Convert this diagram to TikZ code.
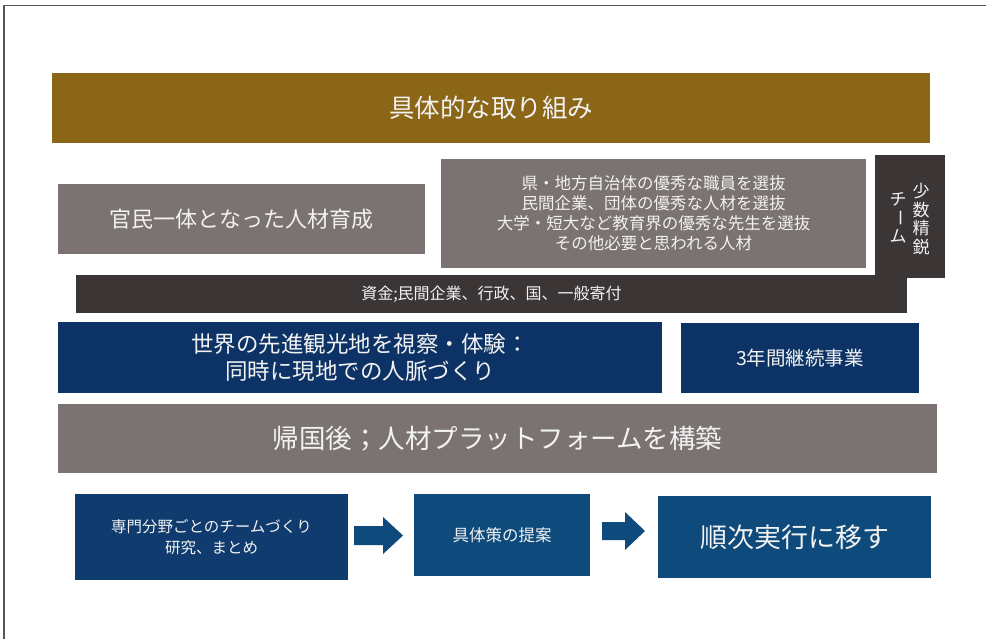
\documentclass[tikz,border=0pt]{standalone}
\usepackage{fontspec}
\setmainfont{Noto Sans CJK JP}
\usepackage{graphicx}
\definecolor{gold}{HTML}{8A6616}
\definecolor{greyb}{HTML}{7A7371}
\definecolor{darkb}{HTML}{3B3536}
\definecolor{navy}{HTML}{0D3366}
\definecolor{navyA}{HTML}{0F3B6E}
\definecolor{blueb}{HTML}{0E4A7C}
\definecolor{txtc}{HTML}{F2F2F2}
\definecolor{framec}{HTML}{555555}
\begin{document}
\begin{tikzpicture}[x=1pt,y=-1pt,
  blk/.style={draw=none,inner sep=0pt,align=center,text=txtc},
  arr/.style={fill=blueb,draw=none}]
\useasboundingbox (0,0) rectangle (986,639);
\fill[white] (0,0) rectangle (986,639);
\draw[framec,line width=1.3pt] (4,640) -- (4,5.5) -- (987,5.5);
% title
\node[blk,fill=gold,minimum width=878pt,minimum height=70pt,font=\fontsize{25.5}{30}\selectfont] (title) at (491,108) {具体的な取り組み};
% row 2
\node[blk,fill=greyb,minimum width=367pt,minimum height=70pt,font=\fontsize{22}{26}\selectfont] (kanmin) at (241.5,219) {官民一体となった人材育成};
\node[blk,fill=greyb,minimum width=425pt,minimum height=109pt,font=\fontsize{16.5}{20}\selectfont] (sel) at (653.5,213.5) {県・地方自治体の優秀な職員を選抜\\民間企業、団体の優秀な人材を選抜\\大学・短大など教育界の優秀な先生を選抜\\その他必要と思われる人材};
\node[blk,fill=darkb,minimum width=70pt,minimum height=123pt] (team) at (910,216.5) {};
\node[blk,font=\fontsize{17}{19}\selectfont] (teamA) at (921,219) {\shortstack{少\\数\\精\\鋭}};
\node[blk,font=\fontsize{17}{19}\selectfont] (teamB) at (898,218) {\shortstack{チ\\\rotatebox[origin=c]{-90}{ー}\\ム}};
% funding
\node[blk,fill=darkb,minimum width=831pt,minimum height=38pt,font=\fontsize{16}{18}\selectfont] (fund) at (491.5,294) {資金;民間企業、行政、国、一般寄付};
% row 4
\node[blk,fill=navy,minimum width=604pt,minimum height=71pt,font=\fontsize{22.5}{27}\selectfont] (world) at (360,357.5) {世界の先進観光地を視察・体験：\\同時に現地での人脈づくり};
\node[blk,fill=navy,minimum width=238pt,minimum height=70pt,font=\fontsize{19.5}{22}\selectfont] (three) at (800,358) {3年間継続事業};
% row 5
\node[blk,fill=greyb,minimum width=879pt,minimum height=69pt,font=\fontsize{26.5}{30}\selectfont] (kikoku) at (497.5,438.5) {帰国後；人材プラットフォームを構築};
% bottom
\node[blk,fill=navyA,minimum width=273pt,minimum height=86pt,font=\fontsize{15.5}{21}\selectfont] (b1) at (211.5,537) {専門分野ごとのチームづくり\\研究、まとめ};
\node[blk,fill=blueb,minimum width=176pt,minimum height=82pt,font=\fontsize{16.5}{20}\selectfont] (b2) at (502,535) {具体策の提案};
\node[blk,fill=blueb,minimum width=273pt,minimum height=82pt,font=\fontsize{27}{32}\selectfont] (b3) at (794.5,537) {順次実行に移す};
% block arrows
\fill[arr] (354,526) -- (383,526) -- (383,517) -- (403,535.5) -- (383,554) -- (383,545) -- (354,545) -- cycle;
\fill[arr] (602,522) -- (625,522) -- (625,512) -- (645,531) -- (625,550) -- (625,540) -- (602,540) -- cycle;
\end{tikzpicture}
\end{document}
